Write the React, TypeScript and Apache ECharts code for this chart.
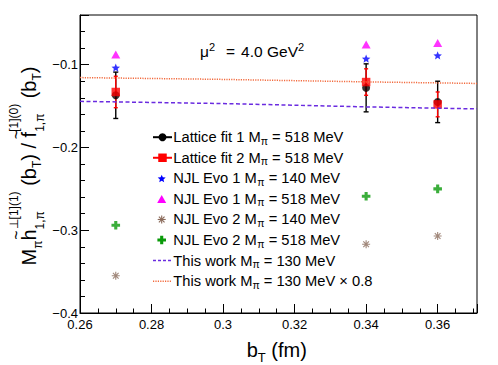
import React, { useEffect, useRef } from 'react';
import * as echarts from 'echarts';

// ---------------- data ----------------
const bT = [0.27, 0.34, 0.36];
const latticeFit1 = [-0.137, -0.128, -0.145];
const latticeFit1Err = [0.028, 0.029, 0.025];
const latticeFit2 = [-0.133, -0.121, -0.148];
const latticeFit2Err = [0.019, 0.016, 0.015];
const njlEvo1M140 = [-0.1036, -0.0927, -0.0888];
const njlEvo1M518 = [-0.0876, -0.0755, -0.0739];
const njlEvo2M140 = [-0.355, -0.317, -0.307];
const njlEvo2M518 = [-0.294, -0.259, -0.25];
const workBT = [0.26, 0.3, 0.34, 0.371];
const thisWork = [-0.1443, -0.147, -0.151, -0.1534];
const thisWork08 = [-0.1156, -0.1178, -0.1208, -0.1227];
const xTickLabels = ['0.26', '0.28', '0.3', '0.32', '0.34', '0.36'];
const yTickLabels = ['\u22120.4', '\u22120.3', '\u22120.2', '\u22120.1'];

const X_MIN = 0.26, X_MAX = 0.371, Y_MIN = -0.4, Y_MAX = -0.04;

const FONT = '"Liberation Sans", Arial, Helvetica, sans-serif';
const PURPLE = '#6a2be0';
const ORANGE = '#f26a3d';
const BLUE = '#0000ff';
const MAGENTA = '#ff00ff';
const RED = '#ff0000';
const GREEN = '#0a9a0a';
const BROWN = '#8a6a5a';

// ---------------- shapes ----------------
type Pt = [number, number];
function starPts(cx: number, cy: number, r: number): Pt[] {
  const pts: Pt[] = [];
  for (let i = 0; i < 10; i++) {
    const a = -Math.PI / 2 + (i * Math.PI) / 5;
    const rr = i % 2 === 0 ? r : r * 0.45;
    pts.push([cx + rr * Math.cos(a), cy + rr * Math.sin(a)]);
  }
  return pts;
}
function plusPts(cx: number, cy: number, r: number): Pt[] {
  const w = r * 0.36;
  return [
    [cx - w, cy - r], [cx + w, cy - r], [cx + w, cy - w], [cx + r, cy - w], [cx + r, cy + w], [cx + w, cy + w],
    [cx + w, cy + r], [cx - w, cy + r], [cx - w, cy + w], [cx - r, cy + w], [cx - r, cy - w], [cx - w, cy - w],
  ];
}
function astPolys(cx: number, cy: number, r: number): Pt[][] {
  const w = r * 0.14;
  const polys: Pt[][] = [];
  for (let k = 0; k < 4; k++) {
    const a = (k * Math.PI) / 4;
    const c = Math.cos(a), s = Math.sin(a);
    const base: Pt[] = [[-r, -w], [r, -w], [r, w], [-r, w]];
    polys.push(base.map(([x, y]) => [cx + x * c - y * s, cy + x * s + y * c] as Pt));
  }
  return polys;
}
function triPts(cx: number, cy: number, r: number): Pt[] {
  return [[cx, cy - r], [cx + r, cy + r * 0.8], [cx - r, cy + r * 0.8]];
}
function toPath(polys: Pt[][]) {
  return 'path://' + polys.map((p) => 'M' + p.map((q) => q[0].toFixed(3) + ',' + q[1].toFixed(3)).join('L') + 'Z').join('');
}
const STAR_SYMBOL = toPath([starPts(0, 0, 10)]);
const PLUS_SYMBOL = toPath([plusPts(0, 0, 10)]);
const AST_SYMBOL = toPath(astPolys(0, 0, 10));

// ---------------- text layout ----------------
let measureCtx: CanvasRenderingContext2D | null = null;
function measure(t: string, size: number) {
  if (!measureCtx) measureCtx = document.createElement('canvas').getContext('2d');
  measureCtx!.font = `${size}px ${FONT}`;
  return measureCtx!.measureText(t).width;
}
function textEl(t: string, size: number, x: number, y: number, color = '#000') {
  return {
    type: 'text', x, y, silent: true,
    style: { text: t, fontSize: size, fontFamily: FONT, fill: color, textAlign: 'left', textVerticalAlign: 'middle', align: 'left', verticalAlign: 'middle' },
  };
}
type Run = any;
function layoutRuns(runs: Run[], color = '#000') {
  const els: any[] = [];
  let cx = 0;
  for (const r of runs) {
    if (r.gap !== undefined) { cx += r.gap; continue; }
    if (r.stack) {
      let mw = 0;
      for (const s of r.stack) {
        mw = Math.max(mw, measure(s.t, s.size));
        els.push(textEl(s.t, s.size, cx, s.dy || 0, color));
      }
      cx += mw;
      continue;
    }
    const w = measure(r.t, r.size);
    els.push(textEl(r.t, r.size, cx, r.dy || 0, color));
    if (r.accent) {
      const aw = measure(r.accent.t, r.accent.size);
      els.push(textEl(r.accent.t, r.accent.size, cx + (w - aw) / 2, r.accent.dy, color));
    }
    cx += w;
  }
  return { els, width: cx };
}

// ---------------- legend ----------------
const legendLabels = [
  ['Lattice fit 1 M', 'π', ' = 518 MeV'],
  ['Lattice fit 2 M', 'π', ' = 518 MeV'],
  ['NJL Evo 1 M', 'π', ' = 140 MeV'],
  ['NJL Evo 1 M', 'π', ' = 518 MeV'],
  ['NJL Evo 2 M', 'π', ' = 140 MeV'],
  ['NJL Evo 2 M', 'π', ' = 518 MeV'],
  ['This work M', 'π', ' = 130 MeV'],
  ['This work M', 'π', ' = 130 MeV × 0.8'],
];
const legendIcons = ['lineCircle', 'lineSquare', 'star', 'triangle', 'asterisk', 'plus', 'dashed', 'dotted'];

function legendIcon(kind: string, y: number): any[] {
  const lx1 = 153, lx2 = 172, mx = 162.5, sx = 161.7;
  switch (kind) {
    case 'lineCircle':
      return [
        { type: 'line', shape: { x1: lx1, y1: y, x2: lx2, y2: y }, style: { stroke: '#000', lineWidth: 2 } },
        { type: 'circle', shape: { cx: mx, cy: y, r: 4 }, style: { fill: '#000' } },
      ];
    case 'lineSquare':
      return [
        { type: 'line', shape: { x1: lx1, y1: y, x2: lx2, y2: y }, style: { stroke: RED, lineWidth: 2 } },
        { type: 'rect', shape: { x: mx - 4.25, y: y - 4.25, width: 8.5, height: 8.5 }, style: { fill: RED } },
      ];
    case 'star':
      return [{ type: 'polygon', shape: { points: starPts(sx, y + 0.5, 4.2) }, style: { fill: BLUE } }];
    case 'triangle':
      return [{ type: 'polygon', shape: { points: triPts(sx, y + 0.5, 4.5) }, style: { fill: MAGENTA } }];
    case 'asterisk':
      return astPolys(sx, y, 4).map((p) => ({ type: 'polygon', shape: { points: p }, style: { fill: BROWN } }));
    case 'plus':
      return [{ type: 'polygon', shape: { points: plusPts(sx, y, 4.3) }, style: { fill: GREEN } }];
    case 'dashed':
      return [{ type: 'line', shape: { x1: lx1, y1: y, x2: lx2, y2: y }, style: { stroke: PURPLE, lineWidth: 1.5, lineDash: [3, 2] } }];
    case 'dotted':
      return [{ type: 'line', shape: { x1: lx1, y1: y, x2: lx2, y2: y }, style: { stroke: ORANGE, lineWidth: 1.5, lineDash: [1.2, 1.2] } }];
  }
  return [];
}

function buildGraphic() {
  const g: any[] = [];
  // legend
  const top = 137.2, step = 20.57;
  legendLabels.forEach((lab, i) => {
    const y = top + i * step;
    g.push(...legendIcon(legendIcons[i], y));
    const { els } = layoutRuns([
      { t: lab[0], size: 14.7 },
      { t: lab[1], size: 10.5, dy: 3.5 },
      { t: lab[2], size: 14.7 },
    ]);
    g.push({ type: 'group', x: 173.3, y, children: els });
  });
  // annotation mu^2
  const ann = layoutRuns([
    { t: 'μ', size: 15.5 },
    { t: '2', size: 11, dy: -5 },
    { gap: 11 },
    { t: '=', size: 15.5 },
    { gap: 6 },
    { t: '4.0 GeV', size: 15.5 },
    { t: '2', size: 11, dy: -5 },
  ]);
  g.push({ type: 'group', x: 200, y: 51.7, children: ann.els });
  // x title
  const xt = layoutRuns([
    { t: 'b', size: 20 },
    { t: 'T', size: 13, dy: 8 },
    { t: ' (fm)', size: 20 },
  ]);
  g.push({ type: 'group', x: 246.7, y: 349.5, children: xt.els });
  // y title (rotated)
  const yt = layoutRuns([
    { t: 'M', size: 20 },
    { t: 'π', size: 12, dy: 9 },
    { t: 'h', size: 20, accent: { t: '~', size: 16, dy: -12.5 } },
    { stack: [{ t: '⊥[1](1)', size: 12, dy: -15 }, { t: '1,π', size: 12, dy: 11 }] },
    { t: ' (b', size: 20 },
    { t: 'T', size: 12, dy: 8 },
    { t: ') / ', size: 20 },
    { t: 'f', size: 20, accent: { t: '~', size: 16, dy: -12.5 } },
    { stack: [{ t: '[1](0)', size: 12, dy: -15 }, { t: '1,π', size: 12, dy: 11 }] },
    { t: ' (b', size: 20 },
    { t: 'T', size: 12, dy: 8 },
    { t: ')', size: 20 },
  ]);
  g.push({ type: 'group', x: 28.5, y: 166 + yt.width / 2, rotation: Math.PI / 2, children: yt.els });
  return g;
}

// ---------------- chart ----------------
function errBar(color: string, cap: number, lw: number) {
  return (params: any, api: any) => {
    const x = api.value(0), y = api.value(1), e = api.value(2);
    const p1 = api.coord([x, y + e]);
    const p2 = api.coord([x, y - e]);
    const st = { stroke: color, lineWidth: lw };
    return {
      type: 'group',
      children: [
        { type: 'line', shape: { x1: p1[0], y1: p1[1], x2: p2[0], y2: p2[1] }, style: st },
        { type: 'line', shape: { x1: p1[0] - cap, y1: p1[1], x2: p1[0] + cap, y2: p1[1] }, style: st },
        { type: 'line', shape: { x1: p2[0] - cap, y1: p2[1], x2: p2[0] + cap, y2: p2[1] }, style: st },
      ],
    };
  };
}

const isMult = (v: number, step: number) => Math.abs(v / step - Math.round(v / step)) < 1e-6;

function buildOption(): any {
  const pts = (ys: number[]) => bT.map((x, i) => [x, ys[i]]);
  const axisCommon = { splitLine: { show: false }, axisPointer: { show: false } };
  return {
    animation: false,
    grid: { left: 80, right: 21, top: 15, bottom: 52, show: true, borderColor: '#000', borderWidth: 1 },
    xAxis: [
      {
        ...axisCommon, type: 'value', position: 'bottom', min: X_MIN, max: X_MAX, interval: 0.02,
        axisLine: { show: true, onZero: false, lineStyle: { color: '#000', width: 1 } },
        axisTick: { show: true, inside: true, length: 9, lineStyle: { color: '#000', width: 1 } },
        axisLabel: {
          fontSize: 13, fontFamily: FONT, color: '#000', margin: 5,
          formatter: (v: number) => (isMult(v, 0.02) ? xTickLabels[Math.round((v - X_MIN) / 0.02)] || '' : ''),
        },
      },
      {
        ...axisCommon, type: 'value', position: 'bottom', min: X_MIN, max: X_MAX, interval: 0.005,
        axisLine: { show: false, onZero: false },
        axisTick: { show: true, inside: true, length: 4.5, lineStyle: { color: '#000', width: 1 } },
        axisLabel: { show: false },
      },
    ],
    yAxis: [
      {
        ...axisCommon, type: 'value', position: 'left', min: Y_MIN, max: Y_MAX, interval: 0.1,
        axisLine: { show: true, onZero: false, lineStyle: { color: '#000', width: 1 } },
        axisTick: { show: true, inside: true, length: 9, lineStyle: { color: '#000', width: 1 } },
        axisLabel: {
          fontSize: 13, fontFamily: FONT, color: '#000', margin: 2,
          formatter: (v: number) => (isMult(v, 0.1) ? yTickLabels[Math.round((v - Y_MIN) / 0.1)] || '' : ''),
        },
      },
      {
        ...axisCommon, type: 'value', position: 'left', min: Y_MIN, max: Y_MAX, interval: 0.02,
        axisLine: { show: false, onZero: false },
        axisTick: { show: true, inside: true, length: 5, lineStyle: { color: '#000', width: 1 } },
        axisLabel: { show: false },
      },
    ],
    series: [
      {
        type: 'line', name: 'This work', data: workBT.map((x, i) => [x, thisWork[i]]), symbol: 'none', silent: true,
        lineStyle: { color: PURPLE, width: 1.5, type: [4, 2.5] },
      },
      {
        type: 'line', name: 'This work x 0.8', data: workBT.map((x, i) => [x, thisWork08[i]]), symbol: 'none', silent: true,
        lineStyle: { color: ORANGE, width: 1.5, type: [1.2, 1.2] },
      },
      {
        type: 'custom', name: 'Lattice fit 1 err', renderItem: errBar('#000', 2.5, 1.4), encode: { x: 0, y: 1 },
        data: bT.map((x, i) => [x, latticeFit1[i], latticeFit1Err[i]]), silent: true,
      },
      { type: 'scatter', name: 'Lattice fit 1', data: pts(latticeFit1), symbol: 'circle', symbolSize: 8, itemStyle: { color: '#000' }, silent: true },
      {
        type: 'custom', name: 'Lattice fit 2 err', renderItem: errBar(RED, 2, 1.4), encode: { x: 0, y: 1 },
        data: bT.map((x, i) => [x, latticeFit2[i], latticeFit2Err[i]]), silent: true,
      },
      { type: 'scatter', name: 'Lattice fit 2', data: pts(latticeFit2), symbol: 'rect', symbolSize: 8.5, itemStyle: { color: RED }, silent: true },
      { type: 'scatter', name: 'NJL Evo 1 140', data: pts(njlEvo1M140), symbol: STAR_SYMBOL, symbolKeepAspect: true, symbolSize: 8.5, itemStyle: { color: BLUE }, silent: true },
      { type: 'scatter', name: 'NJL Evo 1 518', data: pts(njlEvo1M518), symbol: 'triangle', symbolSize: [9, 8], itemStyle: { color: MAGENTA }, silent: true },
      { type: 'scatter', name: 'NJL Evo 2 140', data: pts(njlEvo2M140), symbol: AST_SYMBOL, symbolKeepAspect: true, symbolSize: 8, itemStyle: { color: BROWN }, silent: true },
      { type: 'scatter', name: 'NJL Evo 2 518', data: pts(njlEvo2M518), symbol: PLUS_SYMBOL, symbolKeepAspect: true, symbolSize: 8.6, itemStyle: { color: GREEN }, silent: true },
    ],
    graphic: buildGraphic(),
  };
}

export default function App() {
  const ref = useRef<HTMLDivElement>(null);
  useEffect(() => {
    if (!ref.current) return;
    const chart = echarts.init(ref.current, undefined, { renderer: 'svg' });
    chart.setOption(buildOption());
    return () => chart.dispose();
  }, []);
  return (
    <div
      ref={ref}
      style={{ position: 'absolute', left: 0, top: 0, width: 498, height: 365, background: '#fff' }}
    />
  );
}
